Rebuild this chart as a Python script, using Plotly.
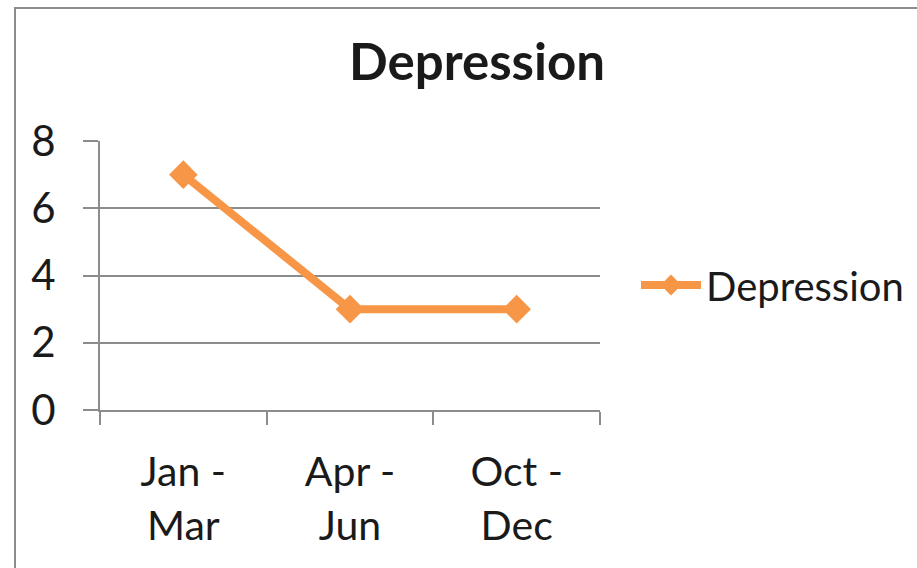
import plotly.graph_objects as go

# Quarterly depression counts
quarters = ["Jan -<br>Mar", "Apr -<br>Jun", "Oct -<br>Dec"]
depression = [7, 3, 3]
y_ticks = [0, 2, 4, 6, 8]

ORANGE = "#F79646"
GRID = "#8C8C8C"
FONT = "Lato, 'Open Sans', sans-serif"

fig = go.Figure()
fig.add_trace(go.Scatter(
    x=quarters,
    y=depression,
    mode="lines+markers",
    name="Depression",
    line=dict(color=ORANGE, width=8),
    marker=dict(symbol="diamond", size=22, color=ORANGE),
))

# plot area: x 100..600 px, y 141..410 px
L, R, T, B = 100, 317, 141, 158
W, H = 917 - L - R, 568 - T - B

fig.update_layout(
    width=917,
    height=568,
    margin=dict(l=L, r=R, t=T, b=B, pad=0, autoexpand=False),
    paper_bgcolor="white",
    plot_bgcolor="white",
    font=dict(family=FONT, size=42, color="#1a1a1a"),
    title=dict(
        text="<b>Depression</b>",
        font=dict(family=FONT, size=51, color="#1a1a1a"),
        x=(477 - L) / W, xref="paper", xanchor="center",
        y=1 - 62 / 568, yref="container", yanchor="middle",
    ),
    showlegend=True,
    legend=dict(
        x=(636 - L) / W, xanchor="left",
        y=(410 - 285) / H, yanchor="middle",
        font=dict(family=FONT, size=40, color="#1a1a1a"),
        bgcolor="rgba(0,0,0,0)",
        borderwidth=0,
        itemwidth=60,
    ),
    xaxis=dict(
        type="category",
        range=[-0.5, 2.5],
        showgrid=False,
        showline=True, linecolor=GRID, linewidth=2,
        ticks="outside", tickson="boundaries", ticklen=13,
        tickwidth=2, tickcolor=GRID,
        ticklabelstandoff=25,
        tickfont=dict(family=FONT, size=41, color="#1a1a1a"),
        zeroline=False,
        fixedrange=True,
    ),
    yaxis=dict(
        range=[0, 8],
        tickvals=y_ticks,
        showgrid=True, gridcolor=GRID, gridwidth=2,
        showline=True, linecolor=GRID, linewidth=2,
        ticks="outside", ticklen=15, tickwidth=2, tickcolor=GRID,
        ticklabelstandoff=19,
        tickfont=dict(family=FONT, size=42, color="#1a1a1a"),
        zeroline=False,
        fixedrange=True,
    ),
)

# outer chart border (runs past the right and bottom edges)
fig.add_shape(
    type="rect", xref="paper", yref="paper",
    x0=(15 - L) / W, x1=(930 - L) / W,
    y0=(410 - 580) / H, y1=(410 - 8) / H,
    line=dict(color="#8C8C8C", width=2), fillcolor="rgba(0,0,0,0)",
    layer="below",
)

fig.write_html("out.html")
